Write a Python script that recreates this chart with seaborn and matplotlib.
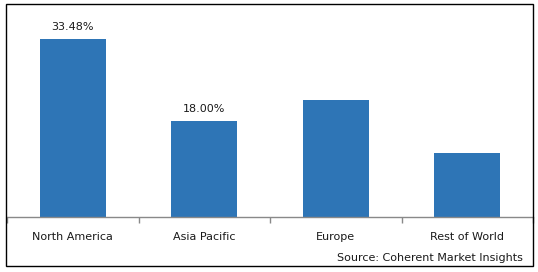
import matplotlib
matplotlib.use("Agg")
import matplotlib.pyplot as plt
import seaborn as sns
import pandas as pd
from matplotlib.patches import Rectangle

categories = ["North America", "Asia Pacific", "Europe", "Rest of World"]
values = [33.48, 18.00, 22.0, 12.0]
bar_labels = ["33.48%", "18.00%", "", ""]
source = "Source: Coherent Market Insights"

sns.set_style("white")
plt.rcParams["font.family"] = ["DejaVu Sans"]

W, H = 538, 272
fig = plt.figure(figsize=(W / 100, H / 100), dpi=100)
ax = fig.add_axes([7 / W, 55 / H, 526 / W, 207 / H])

df = pd.DataFrame({"region": categories, "share": values})
sns.barplot(data=df, x="region", y="share", color="#2E75B6", width=0.5,
            saturation=1, linewidth=0, ax=ax)

ax.set_xlim(-0.5, 3.5)
ax.set_ylim(0, 33.48 * 207 / 178)
ax.set_xlabel("")
ax.set_ylabel("")
ax.set_yticks([])
for s in ["top", "right", "left"]:
    ax.spines[s].set_visible(False)
ax.spines["bottom"].set_color("#898989")
ax.spines["bottom"].set_linewidth(1)

ax.set_xticks(range(len(categories)))
ax.set_xticklabels(categories, fontsize=8, color="#1a1a1a")
ax.tick_params(axis="x", which="major", bottom=True, length=0, pad=11)
ax.set_xticks([-0.5, 0.5, 1.5, 2.5, 3.5], minor=True)
ax.tick_params(axis="x", which="minor", bottom=True, length=4,
               color="#898989", width=1, direction="out")

for i, (v, lab) in enumerate(zip(values, bar_labels)):
    if lab:
        ax.annotate(lab, (i, v), xytext=(0, 5), textcoords="offset points",
                    ha="center", va="bottom", fontsize=8, color="#1a1a1a")

fig.text(523 / W, (272 - 258) / H, source, ha="right", va="center",
         fontsize=8, color="#1a1a1a")

fig.patches.append(Rectangle((6 / W, 6 / H), 527 / W, 262 / H,
                             transform=fig.transFigure, fill=False,
                             edgecolor="black", linewidth=1))

fig.savefig("out.png", dpi=100)
